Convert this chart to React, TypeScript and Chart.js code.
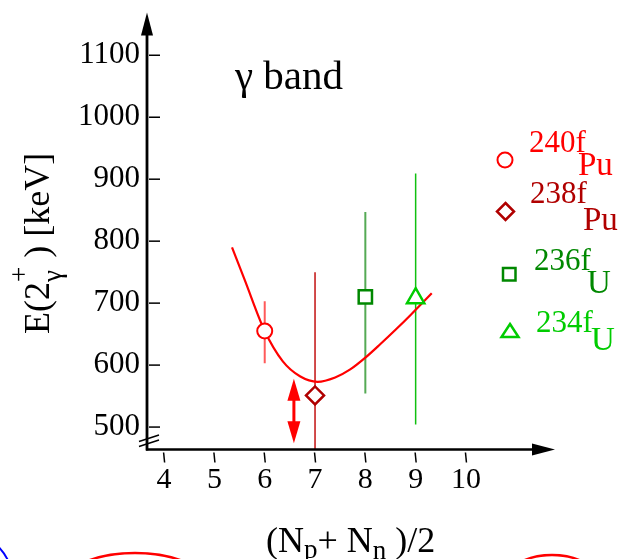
import { useEffect, useRef } from 'react';
import { Chart, registerables } from 'chart.js';

Chart.register(...registerables);

// ---- data ----
const xTicks = [4, 5, 6, 7, 8, 9, 10];
const yTicks = [500, 600, 700, 800, 900, 1000, 1100];

const pu240X = [6];
const pu240Y = [655];
const pu240Lo = [603];
const pu240Hi = [703];

const pu238X = [7];
const pu238Y = [551];
const pu238Lo = [350];
const pu238Hi = [750];

const u236X = [8];
const u236Y = [710];
const u236Lo = [554];
const u236Hi = [847];

const u234X = [9];
const u234Y = [708];
const u234Lo = [504];
const u234Hi = [909];

const curveX = [5.35, 5.6, 6.0, 6.36, 6.7, 7.05, 7.4, 7.7, 8.0, 8.3, 8.6, 8.9, 9.32];
const curveY = [790, 738, 655, 606, 582, 573, 580, 593, 612, 634, 657, 681, 716];

const arrowX = [6.58];
const arrowLo = [474];
const arrowHi = [578];

// ---- styles ----
const SERIF = "'Liberation Serif', 'Times New Roman', serif";
const C_PU240 = '#ff0000';
const C_PU240_BAR = '#ff5a5a';
const C_PU238 = '#b00000';
const C_PU238_BAR = '#c21010';
const C_U236 = '#008800';
const C_U236_BAR = '#55aa55';
const C_U234 = '#00cc00';
const C_U234_BAR = '#10c010';

const toPts = (xs: number[], ys: number[]) => xs.map((x, i) => ({ x, y: ys[i] }));

type Part = { t: string; size: number; dy?: number; noAdvance?: boolean };

function drawParts(ctx: CanvasRenderingContext2D, x: number, y: number, parts: Part[], color: string) {
  ctx.fillStyle = color;
  ctx.textAlign = 'left';
  ctx.textBaseline = 'alphabetic';
  let cx = x;
  let pendingMax = 0;
  for (const p of parts) {
    ctx.font = `${p.size}px ${SERIF}`;
    ctx.fillText(p.t, cx, y + (p.dy || 0));
    const w = ctx.measureText(p.t).width;
    if (p.noAdvance) {
      pendingMax = Math.max(pendingMax, w);
    } else {
      cx += Math.max(w, pendingMax);
      pendingMax = 0;
    }
  }
}

const errSeries = [
  { xs: pu240X, lo: pu240Lo, hi: pu240Hi, color: C_PU240_BAR, w: 2 },
  { xs: pu238X, lo: pu238Lo, hi: pu238Hi, color: C_PU238_BAR, w: 1.5 },
  { xs: u236X, lo: u236Lo, hi: u236Hi, color: C_U236_BAR, w: 2 },
  { xs: u234X, lo: u234Lo, hi: u234Hi, color: C_U234_BAR, w: 1.5 },
];

const decoPlugin = {
  id: 'deco',
  beforeDatasetsDraw(chart: any) {
    const { ctx, chartArea: a, scales } = chart;
    ctx.save();
    ctx.beginPath();
    ctx.rect(a.left, a.top, a.right - a.left, a.bottom - a.top);
    ctx.clip();
    for (const s of errSeries) {
      s.xs.forEach((xv, i) => {
        const px = scales.x.getPixelForValue(xv);
        ctx.strokeStyle = s.color;
        ctx.lineWidth = s.w;
        ctx.beginPath();
        ctx.moveTo(px, scales.y.getPixelForValue(s.lo[i]));
        ctx.lineTo(px, scales.y.getPixelForValue(s.hi[i]));
        ctx.stroke();
      });
    }
    ctx.restore();
  },
  afterDatasetsDraw(chart: any) {
    const { ctx, scales } = chart;
    ctx.save();
    ctx.fillStyle = C_PU240;
    ctx.strokeStyle = C_PU240;
    arrowX.forEach((xv, i) => {
      const px = scales.x.getPixelForValue(xv);
      const top = scales.y.getPixelForValue(arrowHi[i]);
      const bot = scales.y.getPixelForValue(arrowLo[i]);
      const hl = 22, hw = 6.5;
      ctx.lineWidth = 3;
      ctx.beginPath();
      ctx.moveTo(px, top + hl - 2);
      ctx.lineTo(px, bot - hl + 2);
      ctx.stroke();
      ctx.beginPath();
      ctx.moveTo(px, top);
      ctx.lineTo(px - hw, top + hl);
      ctx.lineTo(px + hw, top + hl);
      ctx.closePath();
      ctx.fill();
      ctx.beginPath();
      ctx.moveTo(px, bot);
      ctx.lineTo(px - hw, bot - hl);
      ctx.lineTo(px + hw, bot - hl);
      ctx.closePath();
      ctx.fill();
    });
    ctx.restore();
  },
  afterDraw(chart: any) {
    const { ctx, chartArea: a, scales } = chart;
    ctx.save();
    // axes
    ctx.strokeStyle = '#000';
    ctx.fillStyle = '#000';
    ctx.lineWidth = 2.8;
    ctx.beginPath();
    ctx.moveTo(a.left, a.bottom + 1);
    ctx.lineTo(a.left, a.top + 20);
    ctx.stroke();
    ctx.lineWidth = 2.5;
    ctx.beginPath();
    ctx.moveTo(a.left - 1, a.bottom);
    ctx.lineTo(a.right - 20, a.bottom);
    ctx.stroke();
    // arrow heads
    ctx.beginPath();
    ctx.moveTo(a.left, a.top);
    ctx.lineTo(a.left - 6, a.top + 23);
    ctx.lineTo(a.left + 6, a.top + 23);
    ctx.closePath();
    ctx.fill();
    ctx.beginPath();
    ctx.moveTo(a.right, a.bottom);
    ctx.lineTo(a.right - 23, a.bottom - 6);
    ctx.lineTo(a.right - 23, a.bottom + 6);
    ctx.closePath();
    ctx.fill();
    // y tick marks (inside)
    ctx.lineWidth = 1.5;
    for (const v of yTicks) {
      const py = scales.y.getPixelForValue(v);
      ctx.beginPath();
      ctx.moveTo(a.left + 2, py);
      ctx.lineTo(a.left + 13, py);
      ctx.stroke();
    }
    // x tick marks (below)
    for (const v of xTicks) {
      const px = scales.x.getPixelForValue(v);
      ctx.beginPath();
      ctx.moveTo(px - 0.5, a.bottom + 3);
      ctx.lineTo(px + 0.5, a.bottom + 13);
      ctx.stroke();
    }
    // axis break marks
    ctx.lineWidth = 1.5;
    ctx.beginPath();
    ctx.moveTo(a.left - 8, a.bottom - 8);
    ctx.lineTo(a.left + 12, a.bottom - 14.5);
    ctx.moveTo(a.left - 8, a.bottom - 3);
    ctx.lineTo(a.left + 12, a.bottom - 9.5);
    ctx.stroke();

    // y axis title (rotated)
    ctx.save();
    ctx.translate(49, 334);
    ctx.rotate(-Math.PI / 2);
    drawParts(ctx, 0, 0, [
      { t: 'E(2', size: 36 },
      { t: '+', size: 27, dy: -21, noAdvance: true },
      { t: '\u03B3', size: 27, dy: 12 },
      { t: ' ) [keV]', size: 36 },
    ], '#000');
    ctx.restore();

    // x axis title
    drawParts(ctx, 266, 552, [
      { t: '(N', size: 36 },
      { t: 'p', size: 27, dy: 6 },
      { t: '+ N', size: 36 },
      { t: 'n', size: 27, dy: 7 },
      { t: ' )/2', size: 36 },
    ], '#000');

    // gamma band label
    drawParts(ctx, 235, 89, [{ t: '\u03B3 band', size: 41 }], '#000');

    // legend
    ctx.lineWidth = 2;
    ctx.strokeStyle = C_PU240;
    ctx.fillStyle = '#fff';
    ctx.beginPath();
    ctx.arc(505, 160, 7.5, 0, Math.PI * 2);
    ctx.fill();
    ctx.stroke();
    drawParts(ctx, 529, 152, [{ t: '240f', size: 31 }], C_PU240);
    drawParts(ctx, 578, 175, [{ t: 'Pu', size: 33 }], C_PU240);

    ctx.lineWidth = 2.5;
    ctx.strokeStyle = C_PU238;
    ctx.fillStyle = '#fff';
    ctx.beginPath();
    ctx.moveTo(505.5, 203);
    ctx.lineTo(514, 211.5);
    ctx.lineTo(505.5, 220);
    ctx.lineTo(497, 211.5);
    ctx.closePath();
    ctx.fill();
    ctx.stroke();
    drawParts(ctx, 530, 203, [{ t: '238f', size: 31 }], C_PU238);
    drawParts(ctx, 583, 230, [{ t: 'Pu', size: 33 }], C_PU238);

    ctx.strokeStyle = C_U236;
    ctx.fillStyle = '#fff';
    ctx.beginPath();
    ctx.rect(503, 268, 12.5, 12.5);
    ctx.fill();
    ctx.stroke();
    drawParts(ctx, 534, 270, [{ t: '236f', size: 31 }], C_U236);
    drawParts(ctx, 587, 293, [{ t: 'U', size: 33 }], C_U236);

    ctx.strokeStyle = C_U234;
    ctx.fillStyle = '#fff';
    ctx.beginPath();
    ctx.moveTo(510, 324);
    ctx.lineTo(518.5, 337);
    ctx.lineTo(501.5, 337);
    ctx.closePath();
    ctx.fill();
    ctx.stroke();
    drawParts(ctx, 536, 332, [{ t: '234f', size: 31 }], C_U234);
    drawParts(ctx, 591, 350, [{ t: 'U', size: 33 }], C_U234);

    // partial shapes at bottom edge
    ctx.lineWidth = 2.5;
    ctx.strokeStyle = '#ff0000';
    ctx.beginPath();
    ctx.ellipse(135, 585, 72, 32, 0, 0, Math.PI * 2);
    ctx.stroke();
    ctx.beginPath();
    ctx.ellipse(552, 580, 45, 25, 0, 0, Math.PI * 2);
    ctx.stroke();
    ctx.strokeStyle = '#0000ff';
    ctx.lineWidth = 2;
    ctx.beginPath();
    ctx.ellipse(-30, 580, 42, 45, 0, 0, Math.PI * 2);
    ctx.stroke();
    ctx.restore();
  },
};

export default function App() {
  const ref = useRef<HTMLCanvasElement | null>(null);
  useEffect(() => {
    if (!ref.current) return;
    const chart = new Chart(ref.current, {
      type: 'scatter',
      data: {
        datasets: [
          {
            label: '240Pu',
            data: toPts(pu240X, pu240Y),
            pointStyle: 'circle',
            pointRadius: 7.5,
            pointBorderWidth: 2,
            pointBorderColor: C_PU240,
            pointBackgroundColor: '#fff',
          },
          {
            label: '238Pu',
            data: toPts(pu238X, pu238Y),
            pointStyle: 'rectRot',
            pointRadius: 9,
            pointBorderWidth: 2.5,
            pointBorderColor: C_PU238,
            pointBackgroundColor: '#fff',
          },
          {
            label: '236U',
            data: toPts(u236X, u236Y),
            pointStyle: 'rect',
            pointRadius: 9.4,
            pointBorderWidth: 2.5,
            pointBorderColor: C_U236,
            pointBackgroundColor: '#fff',
          },
          {
            label: '234U',
            data: toPts(u234X, u234Y),
            pointStyle: 'triangle',
            pointRadius: 10,
            pointBorderWidth: 2.5,
            pointBorderColor: C_U234,
            pointBackgroundColor: '#fff',
          },
          {
            label: 'fit',
            data: toPts(curveX, curveY),
            showLine: true,
            pointRadius: 0,
            borderColor: '#ff0000',
            borderWidth: 2.2,
            cubicInterpolationMode: 'monotone',
          } as any,
        ],
      },
      options: {
        animation: false,
        responsive: false,
        maintainAspectRatio: false,
        layout: { padding: { left: 0, top: 5, right: 85, bottom: 0 } },
        plugins: { legend: { display: false }, tooltip: { enabled: false } },
        scales: {
          x: {
            type: 'linear',
            min: 3.66,
            max: 11.77,
            grid: { display: false, drawTicks: false },
            border: { display: false },
            ticks: {
              font: { family: SERIF, size: 30 },
              color: '#000',
              padding: 13,
              autoSkip: false,
              maxRotation: 0,
              callback: (v: any) => String(v),
            },
            afterBuildTicks: (s: any) => {
              s.ticks = xTicks.map((v) => ({ value: v }));
            },
            afterFit: (s: any) => {
              s.height = 109.5;
              s.paddingLeft = 0;
              s.paddingRight = 0;
            },
          },
          y: {
            type: 'linear',
            min: 463.8,
            max: 1169,
            grid: { display: false, drawTicks: false },
            border: { display: false },
            ticks: {
              font: { family: SERIF, size: 31 },
              color: '#000',
              padding: 7,
              autoSkip: false,
              callback: (v: any) => String(v),
            },
            afterBuildTicks: (s: any) => {
              s.ticks = yTicks.map((v) => ({ value: v }));
            },
            afterFit: (s: any) => {
              s.width = 147;
              s.paddingTop = 0;
              s.paddingBottom = 0;
            },
          },
        },
      } as any,
      plugins: [decoPlugin],
    });
    return () => chart.destroy();
  }, []);
  return (
    <div style={{ position: 'absolute', left: 0, top: 0, width: 640, height: 559, background: '#fff' }}>
      <canvas ref={ref} width={640} height={559} style={{ display: 'block' }} />
    </div>
  );
}
